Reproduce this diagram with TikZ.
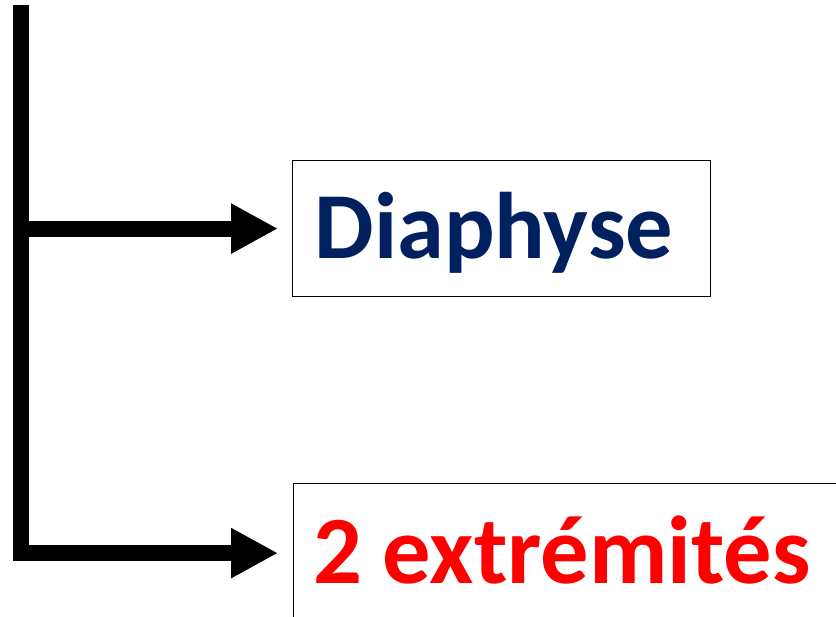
\documentclass[tikz,border=0pt]{standalone}
\usepackage{fontspec}
\setmainfont{Carlito}
\usetikzlibrary{arrows.meta}
\definecolor{navy}{RGB}{0,32,96}
\definecolor{brightred}{RGB}{255,0,0}

\begin{document}
\begin{tikzpicture}[x=1pt, y=-1pt,
  box/.style={draw, line width=1.2pt, anchor=north west, align=left, text depth=0pt},
  branch/.style={line width=16pt, -{Triangle[length=47pt,width=47pt]}}]
%frame
\useasboundingbox (0,0) rectangle (836,617);
\clip (0,0) rectangle (836,617);
%boxes
\node[box, text width=374pt, inner xsep=22pt, text height=59pt, inner ysep=38.5pt,
  text=navy, font=\fontsize{94.5}{94.5}\selectfont\bfseries] (dia) at (292,160) {Diaphyse};
\node[box, text width=560pt, inner xsep=20pt, text height=61pt, inner ysep=39pt,
  text=brightred, font=\fontsize{96.5}{96.5}\selectfont\bfseries] (ext) at (293,483) {2 \hspace{-12pt}extrémités};
%spine
\coordinate (spine) at (21,5);
%arrows
\draw[branch, shorten >=14pt] (spine |- dia.west) -- (dia.west);
\draw[branch, shorten >=15pt] (spine) |- (ext.west);
\end{tikzpicture}
\end{document}
